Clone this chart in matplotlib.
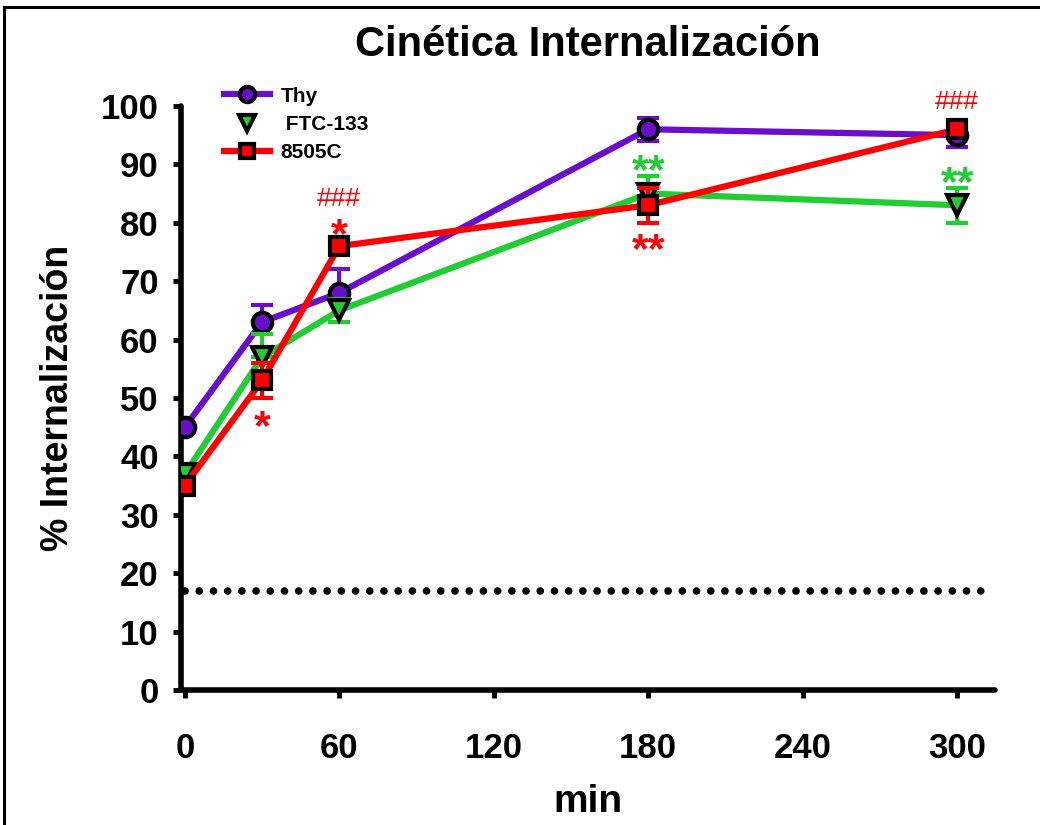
import matplotlib
matplotlib.use("Agg")
import matplotlib.pyplot as plt
from matplotlib.lines import Line2D
from matplotlib.patches import Rectangle

plt.rcParams['font.family'] = ['Liberation Sans', 'DejaVu Sans']
plt.rcParams['font.weight'] = 'bold'

# time points (min)
minutes = [0, 30, 60, 180, 300]

# % internalization per cell line, with lower / upper error
thy = [45, 63, 68, 96, 95]
thy_lo = [0, 0, 0, 2, 2]
thy_hi = [0, 3, 4, 2, 0]

ftc = [37, 57, 65, 85, 83]
ftc_lo = [0, 0, 2, 2, 3]
ftc_hi = [0, 4, 2, 3, 3]

c8505 = [35, 53, 76, 83, 96]
c8505_lo = [0, 3, 0, 3, 0]
c8505_hi = [0, 3, 0, 3, 0]

baseline = 17           # non-specific level (dotted line)

# significance marks: (x, y, text, colour)
marks = [
    (60, 84.0, '###', 'red'),
    (60, 77.8, '*', 'red'),
    (30, 44.8, '*', 'red'),
    (180, 88.6, '**', '#22cc33'),
    (180, 75.2, '**', 'red'),
    (300, 100.6, '###', 'red'),
    (300, 86.6, '**', '#22cc33'),
]

purple = '#6a0dcc'
green = '#22cc33'
red = '#ff0000'

fig = plt.figure(figsize=(10.4, 8.25), dpi=100)
ax = fig.add_axes([0.174, 0.1636, 0.783, 0.708])

# frame around the whole figure
fig.patches.append(Rectangle((4 / 1040, -0.1), 1.2, 1.1 - 7 / 825,
                             transform=fig.transFigure, fill=False,
                             edgecolor='black', linewidth=2.2))

ax.plot([0, 312], [baseline, baseline], linestyle=(0, (0.01, 1.85)),
        dash_capstyle='round', color='black', linewidth=5.5, zorder=1)

series = [
    (thy, thy_lo, thy_hi, purple, 'o', 'Thy'),
    (ftc, ftc_lo, ftc_hi, green, 'v', 'FTC-133'),
    (c8505, c8505_lo, c8505_hi, red, 's', '8505C'),
]
for i, (vals, lo, hi, col, mk, name) in enumerate(series):
    ax.errorbar(minutes, vals, yerr=[lo, hi], color=col, linewidth=4.5,
                elinewidth=3, capsize=8, capthick=3,
                marker=mk, markersize=14 if mk != 's' else 12.5,
                markerfacecolor=col, markeredgecolor='black',
                markeredgewidth=3, zorder=3 + i)

for x, y, t, col in marks:
    if t.startswith('#'):
        ax.text(x, y, t, color=col, fontsize=19, fontweight='normal',
                ha='center', va='center', zorder=10)
    else:
        ax.text(x, y, t, color=col, fontsize=31, fontweight='bold',
                ha='center', va='center', zorder=10)

ax.set_xlim(-1.5, 314.8)
ax.set_ylim(0, 100)
ax.set_xticks([0, 60, 120, 180, 240, 300])
ax.set_yticks(range(0, 101, 10))
ax.tick_params(labelsize=25, width=3.5, length=6)
ax.tick_params(axis='y', pad=10)
ax.tick_params(axis='x', pad=24)
for lab in ax.get_xticklabels() + ax.get_yticklabels():
    lab.set_fontweight('bold')
ax.spines['top'].set_visible(False)
ax.spines['right'].set_visible(False)
ax.spines['left'].set_linewidth(4)
ax.spines['bottom'].set_linewidth(4)
ax.spines['left'].set_capstyle('round')
ax.spines['bottom'].set_capstyle('round')

ax.set_title('Cinética Internalización', fontsize=30, fontweight='bold',
             pad=36)
ax.set_xlabel('min', fontsize=28, fontweight='bold', labelpad=14)
ax.set_ylabel('% Internalización', fontsize=27, fontweight='bold',
              labelpad=18)

handles = [
    Line2D([], [], color=purple, linewidth=4.5, marker='o', markersize=11,
           markerfacecolor=purple, markeredgecolor='black',
           markeredgewidth=3),
    Line2D([], [], color=green, linestyle='none', marker='v', markersize=11,
           markerfacecolor=green, markeredgecolor='black',
           markeredgewidth=3),
    Line2D([], [], color=red, linewidth=4.5, marker='s', markersize=10,
           markerfacecolor=red, markeredgecolor='black',
           markeredgewidth=3),
]
leg = ax.legend(handles, ['Thy', ' FTC-133', '8505C'], loc='upper left',
                bbox_to_anchor=(0.03, 1.065), frameon=False, fontsize=15,
                handlelength=2.2, handletextpad=0.5, labelspacing=0.45)
for t in leg.get_texts():
    t.set_fontweight('bold')

fig.savefig('out.png', dpi=100)
